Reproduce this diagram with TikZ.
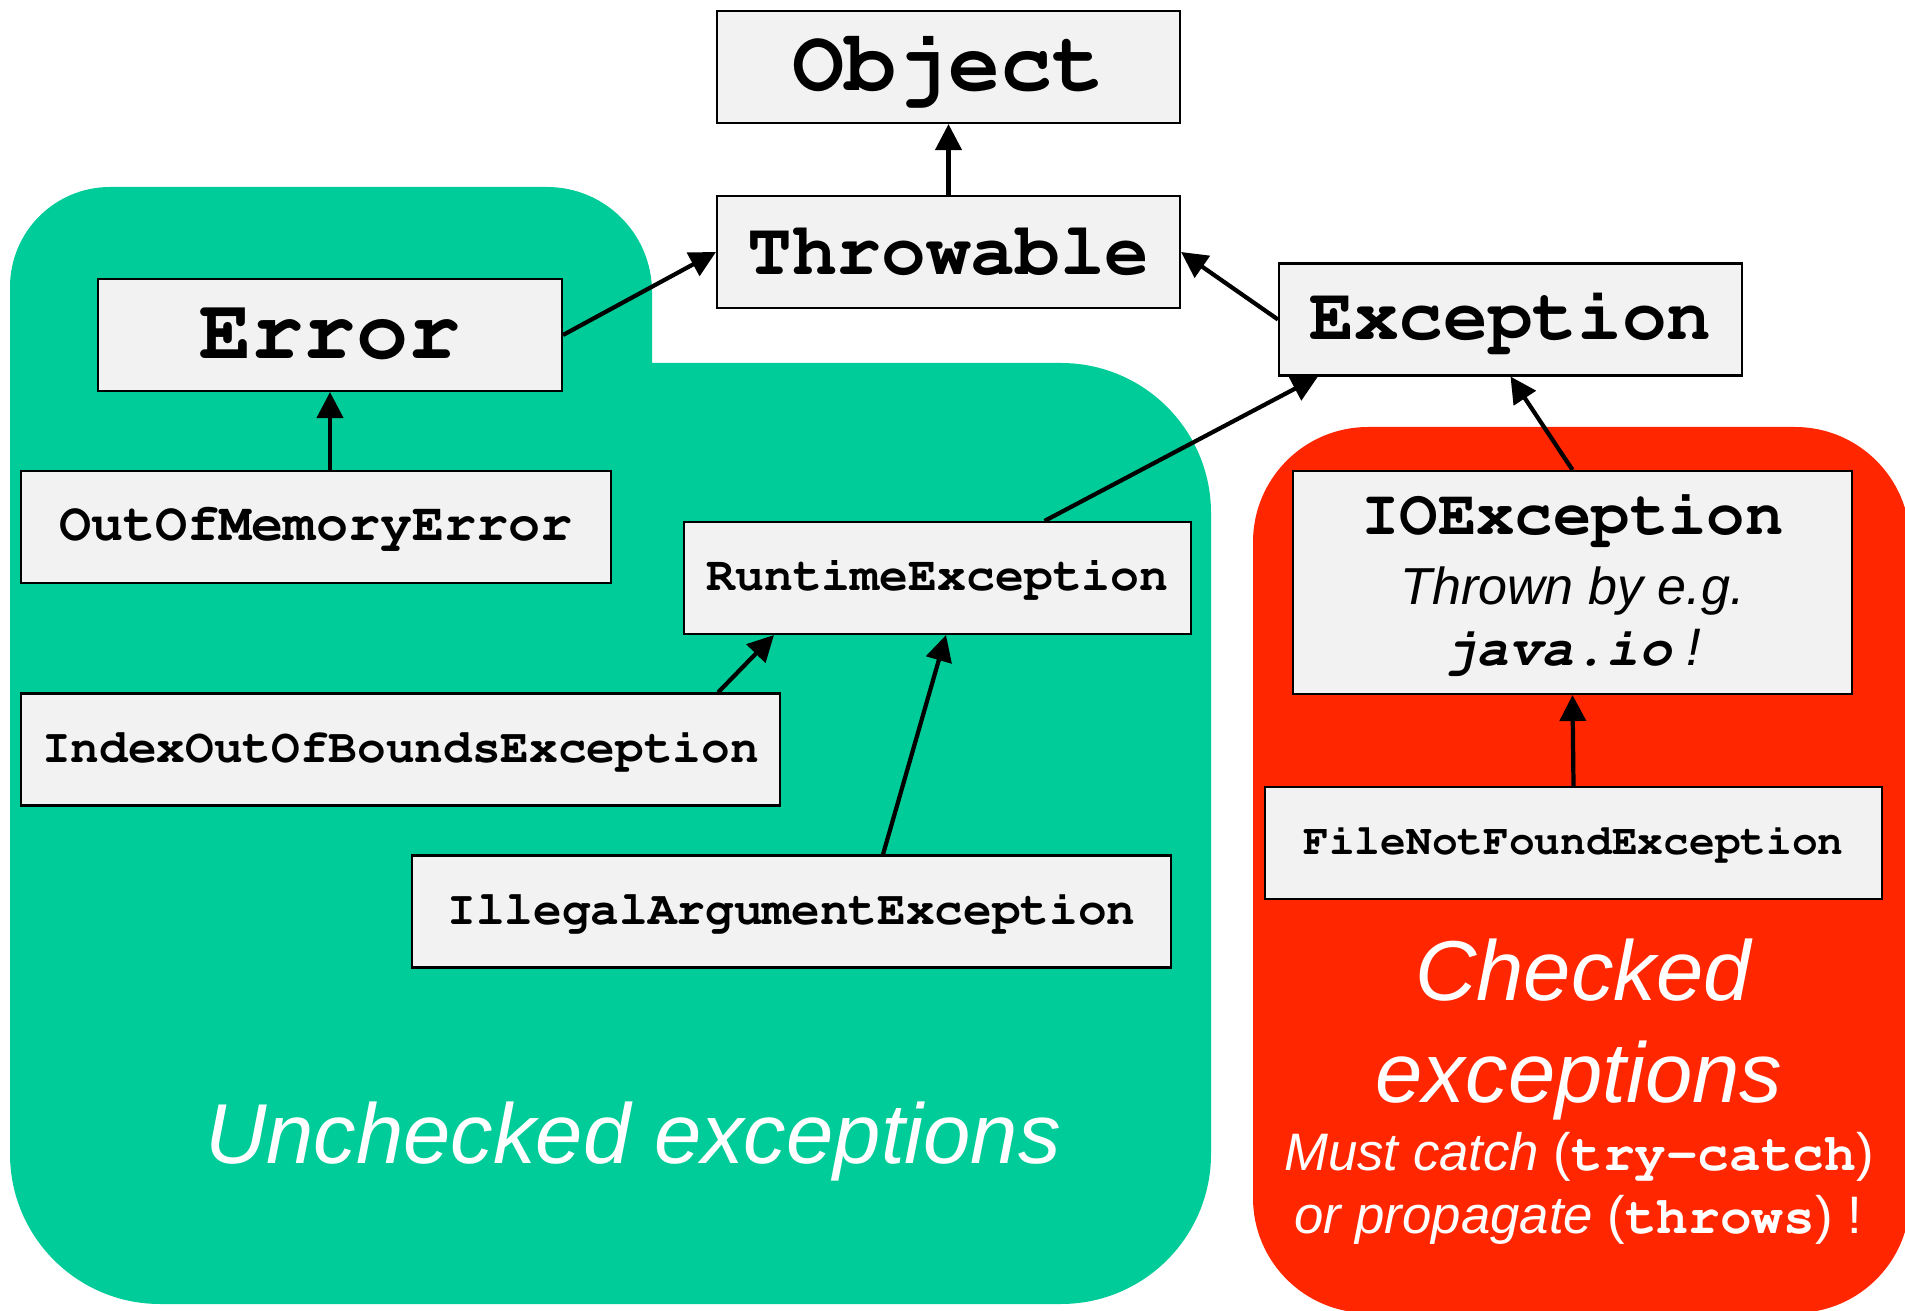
\documentclass[tikz,border=0pt]{standalone}
\usepackage[T1]{fontenc}
\usepackage{fontspec}
\setmainfont{Liberation Sans}
\setsansfont{Liberation Sans}
\setmonofont{Liberation Mono}
\usetikzlibrary{arrows.meta, calc}
\definecolor{uncheckedgreen}{RGB}{0,204,153}
\definecolor{checkedred}{RGB}{255,38,0}
\definecolor{boxgray}{RGB}{242,242,242}
\newcommand{\crbf}{\fontencoding{T1}\fontfamily{pcr}\fontseries{b}\fontshape{n}\selectfont}
\newcommand{\cfont}[1]{\fontencoding{T1}\fontfamily{pcr}\fontseries{b}\fontshape{n}\fontsize{#1}{#1}\selectfont}

\begin{document}
\begin{tikzpicture}[
        cls/.style={rectangle, draw, line width=0.6pt, fill=boxgray, minimum height=1.12cm, inner sep=0pt, align=center},
        arrow/.style={-{Triangle[length=0.26cm, width=0.26cm]}, line width=1.2pt},
        biglabel/.style={white, anchor=base, inner sep=0pt, font=\fontsize{24.2}{29}\selectfont\itshape},
        rulelabel/.style={white, anchor=base, inner sep=0pt, font=\fontsize{15}{18}\selectfont\itshape}
    ]
        \useasboundingbox (0,0) rectangle (19.05,13.10);

        % Regions
        \fill[uncheckedgreen] (0.10,1.56) -- (0.10,10.23) arc[start angle=180, end angle=90, radius=1.0]
            -- (5.47,11.23) arc[start angle=90, end angle=0, radius=1.05]
            -- (6.52,9.47) -- (10.61,9.47) arc[start angle=90, end angle=0, radius=1.5]
            -- (12.11,1.56) arc[start angle=0, end angle=-90, radius=1.5]
            -- (1.60,0.06) arc[start angle=270, end angle=180, radius=1.5] -- cycle;
        \fill[checkedred, rounded corners=1.15cm] (12.53,-0.03) rectangle (19.10,8.83);

        \node[cls, minimum width=4.63cm, font=\cfont{24.7}] (obj)  at (9.485,12.43) {Object};
        \node[cls, minimum width=4.63cm, font=\cfont{21.2}] (thr)  at (9.485,10.58) {Throwable};
        \node[cls, minimum width=4.63cm, font=\cfont{21.2}] (exc)  at (15.105,9.905) {Exception};
        \node[cls, minimum width=4.64cm, font=\cfont{24.7}] (err)  at (3.30,9.75) {Error};
        \node[cls, minimum width=5.90cm, font=\cfont{15.2}] (oom)  at (3.16,7.83) {OutOfMemoryError};
        \node[cls, minimum width=5.07cm, font=\cfont{13.7}] (rte)  at (9.375,7.32) {RuntimeException};
        \node[cls, minimum width=7.59cm, font=\cfont{13.6}] (ioob) at (4.005,5.605) {IndexOutOfBoundsException};
        \node[cls, minimum width=7.59cm, font=\cfont{13.6}] (iae)  at (7.915,3.985) {IllegalArgumentException};
        \node[cls, minimum width=5.59cm, minimum height=2.23cm, font=\fontencoding{T1}\fontfamily{pcr}\fontseries{b}\fontsize{18.2}{17.4}\selectfont] (ioe) at (15.725,7.275)
            {IOException\\[2.5pt]
             {\normalfont\itshape\fontsize{14.8}{17}\selectfont Thrown by e.g.}\\
             {\fontsize{15.4}{17}\fontshape{sl}\selectfont java.io}{\normalfont\itshape\fontsize{15}{17}\selectfont\ !}};
        \node[cls, minimum width=6.17cm, font=\cfont{12.2}] (fnf)  at (15.735,4.67) {FileNotFoundException};

        \draw[arrow] (thr) -- (obj);
        \draw[arrow] (err.east) -- (thr.west);
        \draw[arrow] (exc.west) -- (thr.east);
        \draw[arrow] (err.south |- oom.north) -- (err.south);
        \draw[arrow] ($(rte.north)+(1.07,0)$) -- ($(exc.south west)+(0.40,0)$);
        \draw[arrow] (ioe.north) -- (exc.south);
        \draw[arrow] (fnf.north) -- (ioe.south);
        \draw[arrow] ($(ioob.north east)+(-0.63,0)$) -- ($(rte.south west)+(0.91,0)$);
        \draw[arrow] ($(iae.north)+(0.915,0)$) -- ($(rte.south)+(0.085,0)$);

        % Labels
        \node[biglabel] (unchk)  at (6.33,1.47) {Unchecked exceptions};
        \node[biglabel] (chk)    at (15.83,3.09) {Checked};
        \node[biglabel] (chkexc) at (15.79,2.08) {exceptions};
        \node[rulelabel] (must)  at (15.79,1.40) {Must catch \textup{(}{\crbf try-catch}\textup{)}};
        \node[rulelabel] (prop)  at (15.78,0.77) {or propagate \textup{(}{\crbf throws}\textup{)} \textup{!}};
    \end{tikzpicture}
\end{document}
